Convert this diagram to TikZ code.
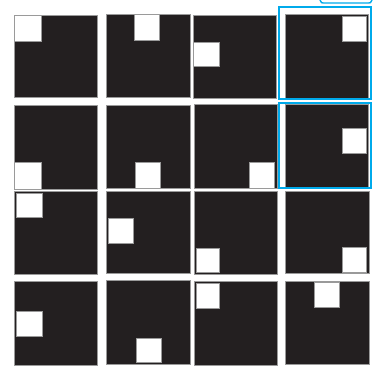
\documentclass[tikz,border=0pt]{standalone}
\definecolor{ink}{HTML}{231F20}
\definecolor{edge}{HTML}{9A9A9A}
\definecolor{cyanline}{RGB}{0,170,235}
\begin{document}
\begin{tikzpicture}[x=1pt,y=-1pt,
  cell/.style={fill=ink,draw=edge,line width=0.8pt},
  hole/.style={fill=white,draw=edge,line width=0.8pt},
  frame/.style={draw=cyanline,line width=2pt},
  bluemark/.style={draw=cyanline,line width=1.4pt}]
\useasboundingbox (0,0) rectangle (375,369);
% row 0
\draw[cell] (14,15) rectangle (97,97.7);
\draw[hole] (14,15) rectangle (41,41.5);
\draw[cell] (106,14.3) rectangle (190,97.3);
\draw[hole] (134.3,14.3) rectangle (159.3,40.3);
\draw[cell] (193.5,15) rectangle (276.5,98.3);
\draw[hole] (193.5,42.3) rectangle (219,66.7);
\draw[cell] (285,14.3) rectangle (368.7,98.7);
\draw[hole] (342.3,16.3) rectangle (366.7,41.3);
% row 1
\draw[cell] (14,105.3) rectangle (97,189);
\draw[hole] (14,162) rectangle (41,189);
\draw[cell] (106,105) rectangle (190,188.5);
\draw[hole] (135,162) rectangle (160.3,188.5);
\draw[cell] (194,104.5) rectangle (277,188.7);
\draw[hole] (249.3,162.3) rectangle (274.3,188.7);
\draw[cell] (285,104.3) rectangle (368.3,188);
\draw[hole] (342.3,128.3) rectangle (366.7,153.3);
% row 2
\draw[cell] (14.7,191) rectangle (97.7,274.3);
\draw[hole] (16,193.3) rectangle (42,217.7);
\draw[cell] (106.7,191) rectangle (190,273.3);
\draw[hole] (108.3,218.3) rectangle (133.3,243.3);
\draw[cell] (194.3,191) rectangle (277,274.3);
\draw[hole] (196,248.3) rectangle (219.7,272.3);
\draw[cell] (285.7,191) rectangle (369,273.3);
\draw[hole] (342.3,247.3) rectangle (366.7,272);
% row 3
\draw[cell] (14.7,281.7) rectangle (97.7,365);
\draw[hole] (16,311.7) rectangle (42,336);
\draw[cell] (106.7,280.7) rectangle (190,364);
\draw[hole] (136,338.3) rectangle (161,362.7);
\draw[cell] (194.3,281.7) rectangle (277,365);
\draw[hole] (196,283.3) rectangle (219.7,308.3);
\draw[cell] (285.7,281) rectangle (369,364);
\draw[hole] (314.7,282.3) rectangle (339.7,307.3);
% blue frames
\draw[frame] (279.3,6.7) rectangle (371,99.3);
\draw[frame] (279.3,103.3) rectangle (371,188.3);
\draw[bluemark] (320,0) .. controls (321,3) .. (326,3) -- (366,3) .. controls (371,3) .. (372,0);
\end{tikzpicture}
\end{document}
